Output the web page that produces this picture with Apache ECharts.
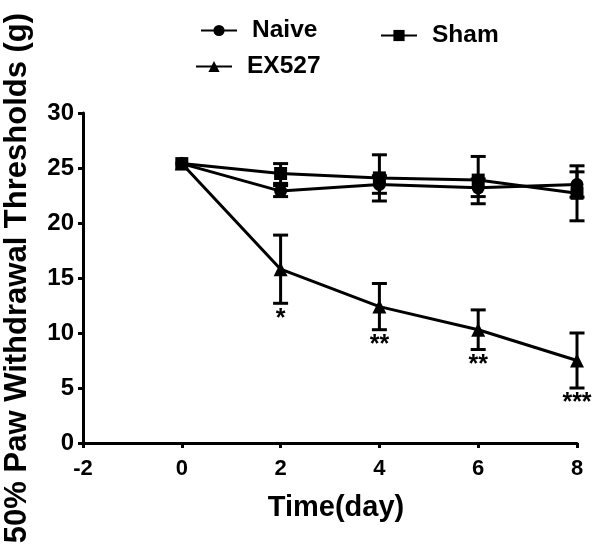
<!DOCTYPE html>
<html><head><meta charset="utf-8">
<script src="https://cdn.jsdelivr.net/npm/echarts@6/dist/echarts.min.js"></script>
<style>html,body{margin:0;padding:0;background:#fff}#c{width:600px;height:554px}</style>
</head><body><div id="c"></div>
<script>
var days = [0, 2, 4, 6, 8];
var naive = [25.4, 22.9, 23.5, 23.2, 23.5];
var naiveErr = [0, 0.5, 0.8, 0.8, 1.15];
var sham = [25.4, 24.5, 24.1, 23.9, 22.7];
var shamErr = [0, 0.9, 2.1, 2.15, 2.5];
var ex527 = [25.4, 15.8, 12.4, 10.3, 7.5];
var ex527Err = [0, 3.1, 2.1, 1.8, 2.5];
var stars = ['', '*', '**', '**', '***'];
var xTicks = [-2, 0, 2, 4, 6, 8];
var yTicks = [0, 5, 10, 15, 20, 25, 30];

var FONT = 'Liberation Sans, Arial, sans-serif';
function pts(v){ return days.map(function(d,i){ return [d, v[i]]; }); }
function errData(v,e){ return days.map(function(d,i){ return [d, v[i], e[i]]; }); }
function errSeries(v,e){
  return {
    type:'custom', z:1, silent:true,
    data: errData(v,e),
    renderItem: function(params, api){
      var x = api.value(0), y = api.value(1), er = api.value(2);
      if (!er) return null;
      var top = api.coord([x, y+er]), bot = api.coord([x, y-er]);
      var hw = 7.5;
      var st = {stroke:'#000', lineWidth:3};
      return {type:'group', children:[
        {type:'line', shape:{x1:top[0],y1:top[1],x2:bot[0],y2:bot[1]}, style:st},
        {type:'line', shape:{x1:top[0]-hw,y1:top[1],x2:top[0]+hw,y2:top[1]}, style:st},
        {type:'line', shape:{x1:bot[0]-hw,y1:bot[1],x2:bot[0]+hw,y2:bot[1]}, style:st}
      ]};
    }
  };
}
var lineStyle = {color:'#000', width:3};
var legText = {fontFamily:FONT, fontWeight:'bold', fontSize:24.5, color:'#000', padding:[0,0,0,10]};
var chart = echarts.init(document.getElementById('c'));
chart.setOption({
  animation:false,
  backgroundColor:'#fff',
  grid:{left:83, right:23, top:113, bottom:111, containLabel:false, outerBoundsMode:'none'},
  legend:[
    {data:['Naive'], left:195, top:13, itemWidth:36, itemHeight:14, textStyle:legText},
    {data:['Sham'], left:375, top:18, itemWidth:36, itemHeight:14, textStyle:legText},
    {data:['EX527'], left:190, top:49, itemWidth:36, itemHeight:14, textStyle:legText}
  ],
  xAxis:{
    type:'value', min:xTicks[0], max:xTicks[xTicks.length-1], interval:2,
    name:'Time(day)', nameLocation:'middle', nameGap:50,
    nameTextStyle:{fontFamily:FONT, fontWeight:'bold', fontSize:29, color:'#000', padding:[0,0,0,12]},
    axisLine:{onZero:false, lineStyle:{color:'#000', width:3}},
    axisTick:{show:true, length:5, lineStyle:{color:'#000', width:3}},
    axisLabel:{fontFamily:FONT, fontWeight:'bold', fontSize:22, color:'#000', margin:15},
    splitLine:{show:false}
  },
  yAxis:{
    type:'value', min:yTicks[0], max:yTicks[yTicks.length-1], interval:5,
    name:'50% Paw Withdrawal Thresholds (g)', nameLocation:'middle', nameGap:50,
    nameTextStyle:{fontFamily:FONT, fontWeight:'bold', fontSize:31, color:'#000'},
    axisLine:{show:true, onZero:false, lineStyle:{color:'#000', width:3}},
    axisTick:{show:true, length:5, lineStyle:{color:'#000', width:3}},
    axisLabel:{fontFamily:FONT, fontWeight:'bold', fontSize:24, color:'#000', margin:9},
    splitLine:{show:false}
  },
  series:[
    errSeries(sham, shamErr),
    errSeries(naive, naiveErr),
    errSeries(ex527, ex527Err),
    {name:'Naive', type:'line', data:pts(naive), symbol:'circle', symbolSize:13,
     lineStyle:lineStyle, itemStyle:{color:'#000'}, z:3},
    {name:'Sham', type:'line', data:pts(sham), symbol:'rect', symbolSize:13,
     lineStyle:lineStyle, itemStyle:{color:'#000'}, z:3},
    {name:'EX527', type:'line', data:pts(ex527), symbol:'triangle', symbolSize:14,
     lineStyle:lineStyle, itemStyle:{color:'#000'}, z:3},
    {type:'custom', silent:true, z:4,
     data: days.map(function(d,i){ return [d, ex527[i]-ex527Err[i], i]; }),
     renderItem:function(params, api){
       var s = stars[api.value(2)];
       if (!s) return null;
       var p = api.coord([api.value(0), api.value(1)]);
       return {type:'text', x:p[0], y:p[1]+3, style:{text:s, textAlign:'center', textVerticalAlign:'top',
         fontFamily:FONT, fontWeight:'bold', fontSize:25, fill:'#000'}};
     }}
  ]
});
</script></body></html>
